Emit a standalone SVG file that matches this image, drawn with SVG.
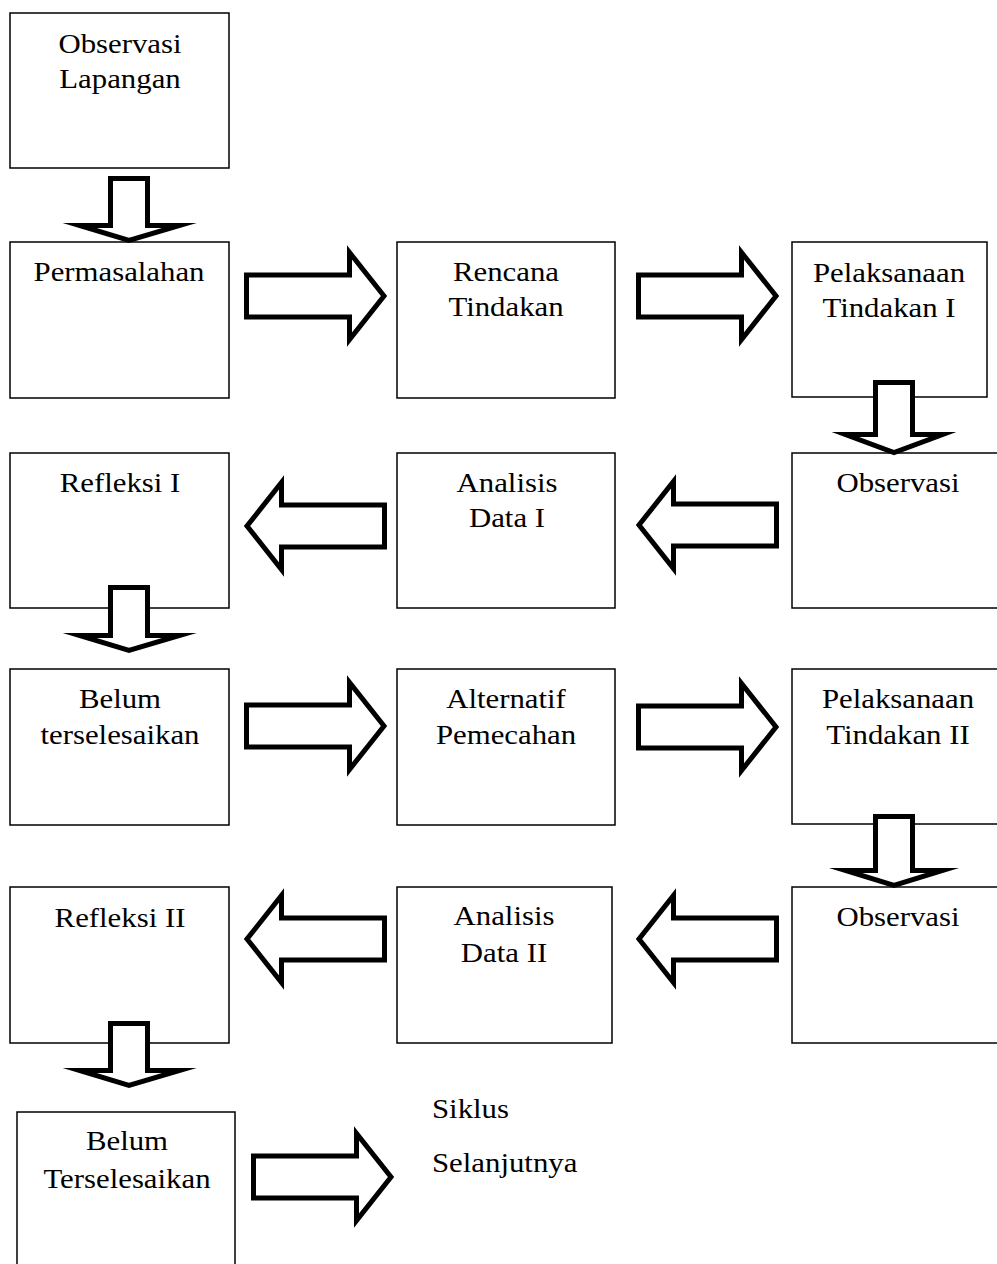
<svg xmlns="http://www.w3.org/2000/svg" xmlns:xlink="http://www.w3.org/1999/xlink" width="997" height="1264" viewBox="0 0 997 1264">
<style>
.box{fill:#fff;stroke:#000;stroke-width:1.5}
.arr{fill:#fff;stroke:#000;stroke-width:5;stroke-linejoin:miter;stroke-miterlimit:10}
.t{font-family:"Liberation Serif","Times New Roman",serif;font-size:28px;fill:#000;text-anchor:middle}
.s{font-family:"Liberation Serif","Times New Roman",serif;font-size:28px;fill:#000;text-anchor:start}
</style>
<defs>
<polygon id="ra" points="2.5,-21 105.5,-21 105.5,-43.5 140,0 105.5,43.5 105.5,21 2.5,21"/>
</defs>
<rect width="997" height="1264" fill="#fff"/>
<g id="n1"><rect class="box" x="10" y="13" width="219" height="155"/>
<text class="t" transform="translate(120 0) scale(1.1 1)"><tspan x="0" y="53">Observasi</tspan><tspan x="0" y="88">Lapangan</tspan></text></g>
<g id="n2"><rect class="box" x="10" y="242" width="219" height="156"/>
<text class="t" transform="translate(119 0) scale(1.1 1)"><tspan x="0" y="281">Permasalahan</tspan></text></g>
<g id="n3"><rect class="box" x="397" y="242" width="218" height="156"/>
<text class="t" transform="translate(506 0) scale(1.1 1)"><tspan x="0" y="281">Rencana</tspan><tspan x="0" y="316">Tindakan</tspan></text></g>
<g id="n4"><rect class="box" x="792" y="242" width="195" height="155"/>
<text class="t" transform="translate(889 0) scale(1.1 1)"><tspan x="0" y="282">Pelaksanaan</tspan><tspan x="0" y="317">Tindakan I</tspan></text></g>
<g id="n5"><rect class="box" x="792" y="453" width="220" height="155"/>
<text class="t" transform="translate(898 0) scale(1.1 1)"><tspan x="0" y="492">Observasi</tspan></text></g>
<g id="n6"><rect class="box" x="397" y="453" width="218" height="155"/>
<text class="t" transform="translate(507 0) scale(1.1 1)"><tspan x="0" y="492">Analisis</tspan><tspan x="0" y="527">Data I</tspan></text></g>
<g id="n7"><rect class="box" x="10" y="453" width="219" height="155"/>
<text class="t" transform="translate(120 0) scale(1.1 1)"><tspan x="0" y="492">Refleksi I</tspan></text></g>
<g id="n8"><rect class="box" x="10" y="669" width="219" height="156"/>
<text class="t" transform="translate(120 0) scale(1.1 1)"><tspan x="0" y="708">Belum</tspan><tspan x="0" y="744">terselesaikan</tspan></text></g>
<g id="n9"><rect class="box" x="397" y="669" width="218" height="156"/>
<text class="t" transform="translate(506 0) scale(1.1 1)"><tspan x="0" y="708">Alternatif</tspan><tspan x="0" y="744">Pemecahan</tspan></text></g>
<g id="n10"><rect class="box" x="792" y="669" width="220" height="155"/>
<text class="t" transform="translate(898 0) scale(1.1 1)"><tspan x="0" y="708">Pelaksanaan</tspan><tspan x="0" y="744">Tindakan II</tspan></text></g>
<g id="n11"><rect class="box" x="792" y="887" width="220" height="156"/>
<text class="t" transform="translate(898 0) scale(1.1 1)"><tspan x="0" y="926">Observasi</tspan></text></g>
<g id="n12"><rect class="box" x="397" y="887" width="215" height="156"/>
<text class="t" transform="translate(504 0) scale(1.1 1)"><tspan x="0" y="925">Analisis</tspan><tspan x="0" y="962">Data II</tspan></text></g>
<g id="n13"><rect class="box" x="10" y="887" width="219" height="156"/>
<text class="t" transform="translate(120 0) scale(1.1 1)"><tspan x="0" y="927">Refleksi II</tspan></text></g>
<g id="n14"><rect class="box" x="17" y="1112" width="218" height="160"/>
<text class="t" transform="translate(127 0) scale(1.1 1)"><tspan x="0" y="1150">Belum</tspan><tspan x="0" y="1188">Terselesaikan</tspan></text></g>
<g id="n15"><text class="s" transform="translate(432 0) scale(1.1 1)"><tspan x="0" y="1118">Siklus</tspan><tspan x="0" y="1172">Selanjutnya</tspan></text></g>
<g id="connectors">
<polygon class="arr" points="110.5,178.5 147.5,178.5 147.5,225.5 179.5,225.5 129,240.5 79.5,225.5 110.5,225.5"/>
<use class="arr" href="#ra" xlink:href="#ra" transform="translate(244 296)"/>
<use class="arr" href="#ra" xlink:href="#ra" transform="translate(636 296)"/>
<polygon class="arr" points="875.5,382.5 912.5,382.5 912.5,434.5 942.5,434.5 894,452.5 845.5,434.5 875.5,434.5"/>
<use class="arr" href="#ra" xlink:href="#ra" transform="translate(779 525) scale(-1 1)"/>
<use class="arr" href="#ra" xlink:href="#ra" transform="translate(387 526) scale(-1 1)"/>
<polygon class="arr" points="110.5,587.5 147.5,587.5 147.5,635.5 179.5,635.5 129,650.5 79.5,635.5 110.5,635.5"/>
<use class="arr" href="#ra" xlink:href="#ra" transform="translate(244 726)"/>
<use class="arr" href="#ra" xlink:href="#ra" transform="translate(636 727)"/>
<polygon class="arr" points="875.5,816.5 912.5,816.5 912.5,870.5 942.5,870.5 894,885.5 845.5,870.5 875.5,870.5"/>
<use class="arr" href="#ra" xlink:href="#ra" transform="translate(779 939) scale(-1 1)"/>
<use class="arr" href="#ra" xlink:href="#ra" transform="translate(387 939) scale(-1 1)"/>
<polygon class="arr" points="110.5,1023.5 147.5,1023.5 147.5,1070.5 179.5,1070.5 129,1085.5 79.5,1070.5 110.5,1070.5"/>
<use class="arr" href="#ra" xlink:href="#ra" transform="translate(251 1177)"/>
</g>
</svg>
